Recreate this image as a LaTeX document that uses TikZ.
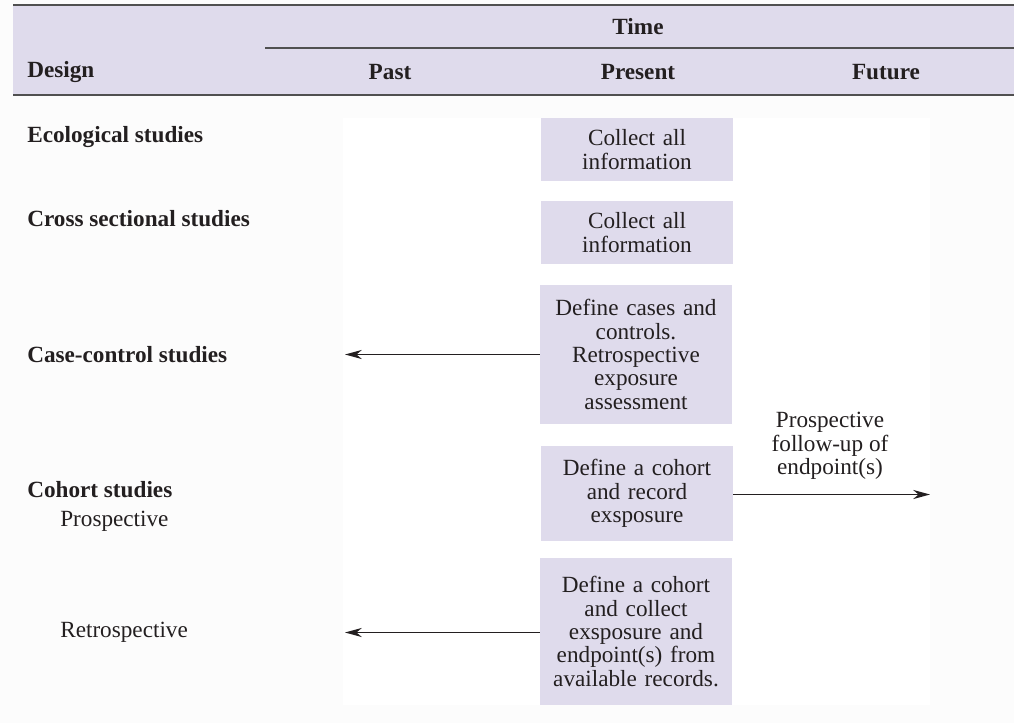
\documentclass[tikz,border=0pt]{standalone}
\usepackage{fontspec}
\setmainfont{Liberation Serif}
\usetikzlibrary{arrows.meta}

\definecolor{lavender}{HTML}{DFDBEC}
\definecolor{rulegray}{HTML}{505050}
\definecolor{inkdark}{HTML}{231F20}
\definecolor{pageoff}{HTML}{FCFCFC}

\tikzset{
  txt/.style={font=\fontsize{16.5}{16.6}\selectfont, text=inkdark, inner sep=0pt},
  hdr/.style={txt, font=\fontsize{16.5}{16.6}\selectfont\bfseries},
  design/.style={hdr, anchor=west},
  subdesign/.style={txt, anchor=west},
  stepbox/.style={txt, fill=lavender, align=center, minimum width=4.8cm,
    text width=4.7cm},
  flow/.style={draw=inkdark, line width=1.1pt, -{Stealth[length=12pt,width=6.5pt]}},
  toprule/.style={draw=rulegray, line width=1.6pt},
  midrule/.style={draw=rulegray, line width=1pt}
}

\begin{document}
\begin{tikzpicture}[x=0.025cm, y=-0.025cm]
  % page and table body
  \useasboundingbox (0,0) rectangle (1014,723);
  \fill[pageoff] (0,0) rectangle (1014,723);
  \fill[white] (343,118) rectangle (930,705);

  % header band with rules
  \fill[lavender] (13,5) rectangle (1014,95);
  \draw[toprule] (13,5) -- (1014,5);
  \draw[toprule] (13,95) -- (1014,95);
  \draw[midrule] (265,48) -- (1014,48);

  \node[hdr] (time) at (638,27) {Time};
  \node[design] (design) at (27,72) {Design};
  \node[hdr] (past) at (390,72) {Past};
  \node[hdr] (present) at (638,72) {Present};
  \node[hdr] (future) at (886,72) {Future};

  % study designs
  \node[design] (eco) at (27,137) {Ecological studies};
  \node[design] (cross) at (27,219) {Cross sectional studies};
  \node[design] (case) at (27,355) {Case-control studies};
  \node[design] (cohort) at (27,490) {Cohort studies};
  \node[subdesign] (prosp) at (60,521) {Prospective};
  \node[subdesign] (retro) at (60,632) {Retrospective};

  % activities at the present time
  \node[stepbox, minimum height=1.575cm] (b1) at (637,149.5)
    {Collect all\\information};
  \node[stepbox, minimum height=1.575cm] (b2) at (637,232.5)
    {Collect all\\information};
  \node[stepbox, minimum height=3.475cm] (b3) at (636,354.5)
    {Define cases and\\controls.\\Retrospective\\exposure\\assessment};
  \node[stepbox, minimum height=2.375cm] (b4) at (637,493.5)
    {Define a cohort\\and record\\exsposure};
  \node[stepbox, minimum height=3.675cm] (b5) at (636,631.5)
    {Define a cohort\\and collect\\exsposure and\\endpoint(s) from\\available records.};

  % direction in time
  \coordinate (pastA) at (345,354.5);
  \coordinate (futB) at (930,494.5);
  \coordinate (pastC) at (345,632.5);
  \draw[flow] (b3.west) -- (pastA);
  \draw[flow] (b4.east |- futB) -- (futB);
  \draw[flow] (b5.west |- pastC) -- (pastC);

  \node[txt, align=center] (follow) at (830,446)
    {Prospective\\follow-up of\\endpoint(s)};
\end{tikzpicture}
\end{document}
